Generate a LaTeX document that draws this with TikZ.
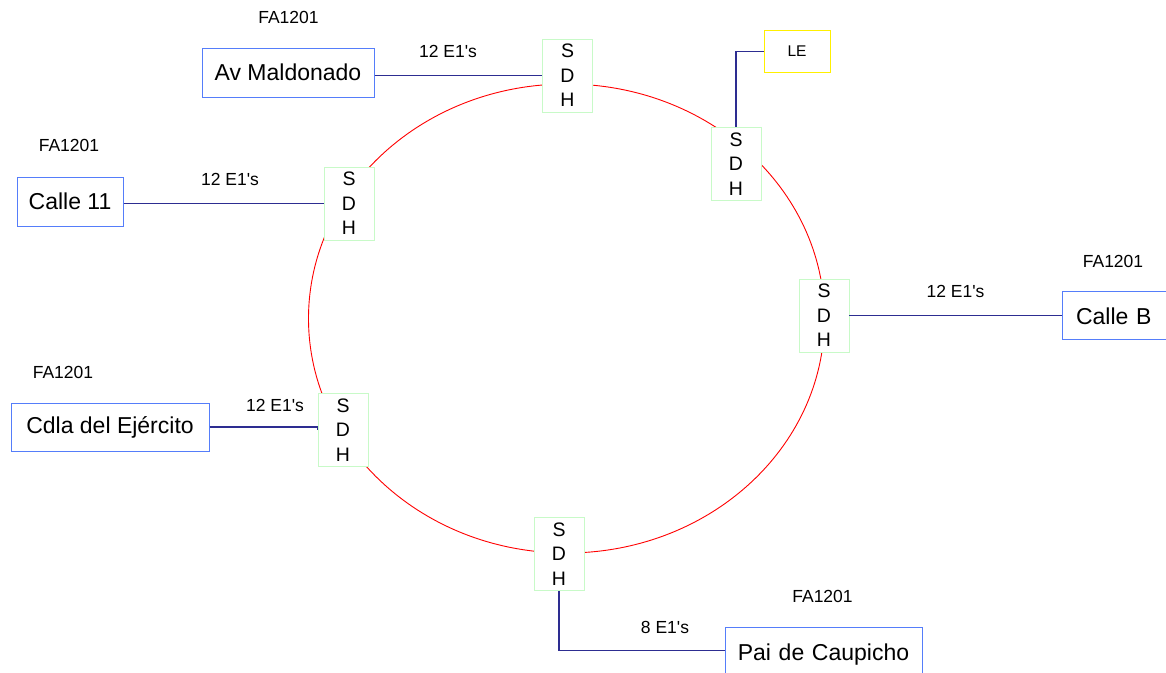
\documentclass[tikz,border=0pt]{standalone}
\usepackage{fontspec}
\setmainfont{Liberation Sans}
\usetikzlibrary{calc}
\definecolor{ringred}{RGB}{255,0,0}
\definecolor{sdhgreen}{RGB}{200,250,200}
\definecolor{siteblue}{RGB}{85,125,250}
\definecolor{linkblue}{RGB}{45,45,145}
\definecolor{leyellow}{RGB}{255,240,0}
\newcommand{\eone}[1]{#1 E1\textquotesingle s}
\tikzset{
  sdhbox/.style={draw=sdhgreen, line width=0.9pt, fill=white, minimum width=50pt, minimum height=73pt,
    inner sep=0pt, align=center, font=\fontsize{19.5}{24.5}\selectfont},
  site/.style={draw=siteblue, line width=1pt, fill=white, inner sep=0pt,
    font=\fontsize{23}{26}\selectfont},
  small/.style={font=\fontsize{17.5}{19}\selectfont, inner sep=0pt},
  link/.style={draw=linkblue, line width=1.6pt},
  ring/.style={draw=ringred, line width=0.9pt}
}
\begin{document}
\begin{tikzpicture}[x=1pt,y=-1pt]
\useasboundingbox (0,0) rectangle (1166,672);
% SDH ring
\draw[ring] (566.5,318.5) ellipse [x radius=258, y radius=234.5];
% SDH multiplexers on the ring
\node[sdhbox] (s1) at (567.5,75.5) {S\\D\\H};
\node[sdhbox] (s2) at (736,164) {S\\D\\H};
\node[sdhbox] (s3) at (349,203.5) {S\\D\\H};
\node[sdhbox] (s4) at (824,315.5) {S\\D\\H};
\node[sdhbox] (s5) at (343,430) {S\\D\\H};
\node[sdhbox] (s6) at (559,554) {S\\D\\H};
% sites
\node[site, minimum width=172pt, minimum height=49pt] (avm) at (288,72.5) {Av Maldonado};
\node[site, minimum width=106pt, minimum height=49pt] (c11) at (70,201.5) {Calle 11};
\node[site, minimum width=198pt, minimum height=48pt] (cdla) at (110,427) {Cdla del Ejército};
\node[site, minimum width=110pt, minimum height=48pt, text width=110pt, align=left] (cb) at (1117,315.8) {\hspace{14pt}Calle B};
\node[site, minimum width=197pt, minimum height=56pt, text width=197pt, align=center] (pai) at (823.5,655) {\raisebox{4pt}{Pai de Caupicho}};
\node[draw=leyellow, line width=1pt, fill=white, minimum width=66pt, minimum height=42pt, inner sep=0pt,
  font=\fontsize{15.5}{18}\selectfont] (le) at (797,51.5) {LE};
% FA1201 tags
\node[small] (t1) at (288.5,17.5) {FA1201};
\node[small] (t2) at (69,145) {FA1201};
\node[small] (t3) at (1113,261.5) {FA1201};
\node[small] (t4) at (63,372) {FA1201};
\node[small] (t5) at (822.5,596.5) {FA1201};
% links
\draw[link] (avm.east |- s1.west) -- (s1.west);
\draw[link] (c11.east |- s3.west) -- (s3.west);
\draw[link] (s4.east) -- (s4.east -| cb.west);
\draw[link] (cdla.east) -- (cdla.east -| s5.west) -- (s5.west);
\draw[link] (le.west) -| (s2.north);
\coordinate (paiin) at (725,650.5);
\draw[link] (s6.south) |- (paiin);
% link capacities
\node[small] (l1) at (448,51) {\eone{12}};
\node[small] (l2) at (230,179) {\eone{12}};
\node[small] (l3) at (955.5,291.5) {\eone{12}};
\node[small] (l4) at (275,405.5) {\eone{12}};
\node[small] (l5) at (665,627) {\eone{8}};
\end{tikzpicture}
\end{document}
